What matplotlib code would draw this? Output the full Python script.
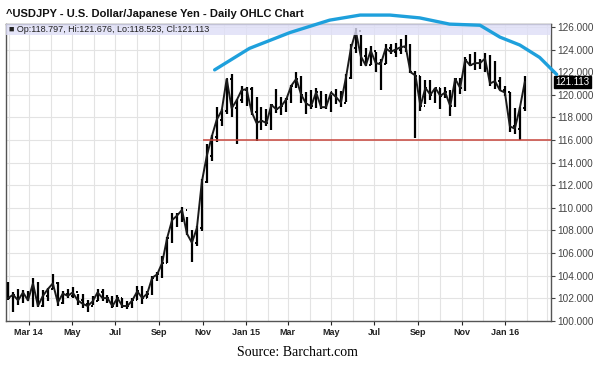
import matplotlib
matplotlib.use("Agg")
import matplotlib.pyplot as plt
import matplotlib.dates as mdates
import matplotlib.transforms as mtransforms
from matplotlib.patches import Rectangle
import numpy as np
import pandas as pd

plt.rcParams['font.family'] = ['Liberation Sans', 'DejaVu Sans']

# weekly bars (week ending Friday)
weeks = pd.date_range('2014-01-31', '2016-01-29', freq='W-FRI')

highs = [103.4, 102.5, 102.8, 102.7, 102.6, 103.8, 103.4, 102.7, 102.9, 104.1,
         103.4, 102.6, 102.8, 103.0, 102.4, 102.4, 101.8, 102.2, 102.8, 102.8,
         102.3, 102.2, 102.3, 102.0, 101.7, 102.0, 103.1, 103.1, 102.6, 104.0,
         104.3, 105.7, 107.4, 109.5, 109.5, 110.1, 109.2, 108.0, 108.4, 112.5,
         115.6, 116.4, 118.9, 118.7, 121.4, 121.8, 119.6, 120.8,
         120.7, 120.7, 119.8, 118.9, 118.7, 119.2, 120.5, 119.8, 119.7, 120.9,
         122.0, 121.7, 120.2, 120.4, 120.6, 120.3, 120.1, 120.0, 120.5, 120.3,
         121.8, 124.5, 125.9, 125.3, 124.1, 124.3, 123.8, 123.2, 124.5, 124.5,
         124.6, 124.9, 125.3, 124.5, 122.1, 121.7, 121.3, 121.3, 120.6, 120.6,
         120.7, 120.4, 121.5, 121.5, 123.3, 123.6, 123.8, 123.2, 123.7, 123.5,
         123.0, 121.6, 120.8, 120.2, 118.8, 118.9, 121.676]
lows = [101.8, 100.8, 101.4, 101.6, 101.7, 101.2, 101.2, 101.2, 101.7, 102.8,
        101.3, 101.5, 102.0, 102.0, 101.4, 101.1, 100.8, 101.4, 101.7, 101.7,
        101.6, 101.1, 101.2, 101.1, 101.0, 101.1, 101.8, 101.5, 102.0, 102.3,
        103.5, 103.8, 105.1, 106.9, 108.3, 108.7, 107.6, 105.2, 106.6, 107.9,
        112.2, 114.1, 115.8, 117.2, 118.3, 118.0, 115.6, 119.3,
        119.0, 118.2, 115.9, 116.9, 117.2, 116.9, 118.4, 118.2, 118.5, 119.3,
        120.6, 119.3, 118.3, 118.7, 118.8, 118.7, 118.7, 118.5, 119.2, 118.9,
        119.4, 121.4, 123.7, 122.5, 122.5, 122.6, 122.0, 120.4, 122.7, 123.6,
        123.3, 123.6, 123.8, 121.9, 116.2, 118.6, 119.2, 119.5, 119.3, 118.7,
        119.7, 118.1, 118.9, 120.1, 120.3, 122.5, 122.2, 122.3, 122.0, 120.8,
        120.5, 120.4, 119.9, 116.7, 116.5, 115.97, 118.523]
closes = [102.0, 102.3, 101.8, 102.5, 101.8, 103.3, 101.3, 102.2, 102.8, 103.3,
          101.6, 102.4, 102.2, 102.5, 101.8, 101.5, 101.3, 101.7, 102.5, 102.0,
          102.0, 101.3, 102.0, 101.3, 101.3, 101.8, 102.6, 102.0, 102.4, 103.8,
          104.1, 105.1, 107.3, 108.9, 109.3, 109.8, 107.7, 106.9, 108.2, 112.3,
          114.6, 116.3, 117.8, 118.6, 121.4, 118.8, 119.5, 120.4,
          120.5, 118.5, 117.5, 117.7, 117.5, 119.1, 118.7, 119.0, 119.6, 120.8,
          121.4, 120.0, 119.2, 119.0, 120.2, 118.9, 118.9, 120.2, 119.8, 119.3,
          121.5, 124.1, 125.6, 123.4, 122.6, 123.9, 122.8, 122.7, 124.1, 123.8,
          124.0, 124.2, 124.3, 122.0, 121.7, 119.0, 120.6, 120.0, 120.6, 119.9,
          120.2, 119.0, 121.4, 120.6, 123.1, 122.6, 122.8, 122.8, 123.2, 121.0,
          121.2, 120.4, 120.2, 117.2, 117.0, 118.8, 121.113]
opens = [102.3] + closes[:-1]
opens[-1] = 118.797

# hand drawn rounding-top arc
arc_dates = pd.to_datetime(['2014-11-18', '2015-01-06', '2015-03-04', '2015-04-29',
                            '2015-06-11', '2015-07-23', '2015-09-03', '2015-10-15',
                            '2015-11-27', '2015-12-25', '2016-01-22', '2016-02-19',
                            '2016-03-14'])
arc_vals = [122.2, 124.1, 125.5, 126.6, 127.05, 127.05, 126.8, 126.25,
            126.15, 125.1, 124.4, 123.3, 121.8]

support = 116.0
support_start = pd.Timestamp('2014-11-01')
last = 121.113

tick_dates = pd.date_range('2014-03-01', '2016-01-01', freq='2MS')

fig = plt.figure(figsize=(5.95, 3.75), dpi=100)
ax = fig.add_axes([6/595, 1-320.7/375, 545/595, 296.7/375])

xmin, xmax = pd.Timestamp('2014-01-28'), pd.Timestamp('2016-03-06')
ax.set_xlim(xmin, xmax)
ax.set_ylim(100, 126.26)

# grid
ax.set_xticks(tick_dates)
ax.xaxis.set_minor_locator(mdates.MonthLocator())
ax.set_yticks(np.arange(100, 127, 2))
ax.grid(True, which='both', axis='x', color='#e3e3e3', lw=0.8)
ax.grid(True, axis='y', color='#e3e3e3', lw=0.8)
ax.set_axisbelow(True)

def fmt(x, pos):
    d = mdates.num2date(x)
    if d.month == 1 or (d.year == 2014 and d.month == 3):
        return d.strftime('%b %y')
    return d.strftime('%b')

ax.xaxis.set_major_formatter(plt.FuncFormatter(fmt))
ax.yaxis.tick_right()
ax.yaxis.set_major_formatter(plt.FuncFormatter(lambda v, p: '%.3f' % v))
ax.tick_params(axis='y', which='both', length=3, direction='out', labelsize=7.2,
               colors='#444444', pad=1.5)
ax.tick_params(axis='x', which='major', length=3, direction='out', labelsize=6.5,
               colors='#222222', pad=2)
ax.tick_params(axis='x', which='minor', length=0)
for lab in ax.get_xticklabels():
    lab.set_fontweight('bold')
for s in ax.spines.values():
    s.set_color('#555555')
    s.set_linewidth(1.0)

# OHLC bars
ax.vlines(weeks, lows, highs, color='black', lw=1.6, zorder=3)
off = pd.Timedelta(days=2)
ax.hlines(opens, weeks - off, weeks, color='black', lw=1.4, zorder=3)
ax.hlines(closes, weeks, weeks + off, color='black', lw=1.4, zorder=3)
ax.plot(weeks, closes, color='#1a1a1a', lw=1.4, zorder=3)

# support line
ax.hlines(support, support_start, xmax, color='#c8463c', lw=1.1, zorder=4)

# header band
ax.add_patch(Rectangle((0, 1 - 11/296.7), 1, 11/296.7, transform=ax.transAxes,
                       facecolor='#dedef7', alpha=0.8, edgecolor='none', zorder=5))
ax.text(0.006, 1 - 5.5/296.7, '\u25a0 Op:118.797, Hi:121.676, Lo:118.523, Cl:121.113',
        transform=ax.transAxes, fontsize=6.5, va='center', ha='left', color='#222222',
        family=['Liberation Sans', 'DejaVu Sans'], zorder=6)

# arc
ax.plot(arc_dates, arc_vals, color='#1ea0dc', lw=2.4, clip_on=False, zorder=7,
        solid_capstyle='round')

# last price label
tr = mtransforms.blended_transform_factory(ax.transAxes, ax.transData)
ax.text(1.008, last, '%.3f' % last, transform=tr, fontsize=7, color='white',
        va='center', ha='left',
        bbox=dict(boxstyle='square,pad=0.12', facecolor='black', edgecolor='black'))

fig.text(6/595, 1 - 14/375, '^USDJPY - U.S. Dollar/Japanese Yen - Daily OHLC Chart',
         fontsize=8, fontweight='bold', va='center', ha='left', color='#111111')
fig.text(297/595, 1 - 352/375, 'Source: Barchart.com', fontsize=10,
         family='Liberation Serif', ha='center', va='center')

fig.savefig('out.png', dpi=100)
